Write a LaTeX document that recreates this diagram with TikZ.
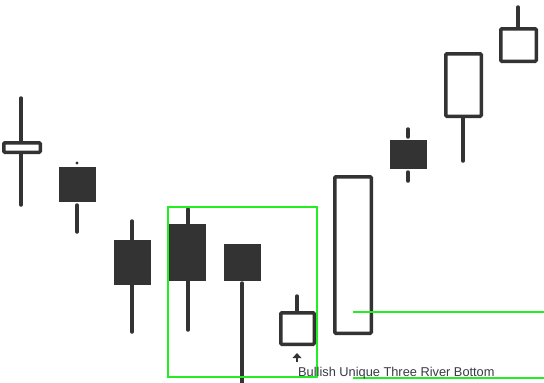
\documentclass[tikz,border=0pt]{standalone}
\usepackage{fontspec}
\setmainfont{Liberation Sans}
\definecolor{cdark}{HTML}{333333}
\definecolor{ctext}{HTML}{3A3A48}
\definecolor{cgreen}{HTML}{22EE22}
\begin{document}
\begin{tikzpicture}[x=1pt,y=-1pt,
  wick/.style={draw=cdark,line width=3.5pt,line cap=round},
  darkbody/.style={fill=cdark},
  hollowbody/.style={draw=cdark,fill=white,line width=3.5pt,rounded corners=1pt},
  marker/.style={draw=cgreen,line width=1.5pt}]
\useasboundingbox[fill=white] (0,0) rectangle (544,383);
% candle 1
\draw[wick] (21,98) -- (21,205);
\draw[hollowbody] (3.75,142.75) rectangle (40.25,152.25);
% candle 2
\fill[cdark] (77,163) circle (1.6);
\draw[wick] (77,205) -- (77,232);
\fill[darkbody] (59,167) rectangle (96,202);
% candle 3
\draw[wick] (132,221) -- (132,332);
\fill[darkbody] (114,240) rectangle (151,285);
% candle 4
\draw[wick] (188,209) -- (188,330);
\fill[darkbody] (169,224) rectangle (206,281);
% candle 5
\draw[wick] (242,283) -- (242,384);
\fill[darkbody] (224,244) rectangle (261,281);
% candle 6
\draw[wick] (297,296) -- (297,312);
\draw[hollowbody] (280.75,312.75) rectangle (314.25,344.25);
% arrow
\fill[cdark] (297,353) -- (301.5,358) -- (292.5,358) -- cycle;
\draw[cdark,line width=2pt] (297,357) -- (297,361.5);
% candle 7
\draw[hollowbody] (334.75,176.75) rectangle (371.25,333.25);
% candle 8
\draw[wick] (408,129) -- (408,137);
\draw[wick] (408,172) -- (408,181);
\fill[darkbody] (390,140) rectangle (427,169);
% candle 9
\draw[wick] (463,118) -- (463,161);
\draw[hollowbody] (445.75,53.75) rectangle (481.25,116.25);
% candle 10
\draw[wick] (518,7) -- (518,28);
\draw[hollowbody] (500.75,28.75) rectangle (536.25,61.25);
% pattern markers
\draw[marker] (168,207) rectangle (317,377);
\coordinate (l1a) at (353,312);
\coordinate (l1b) at (544,312);
\coordinate (l2a) at (353,378);
\coordinate (l2b) at (544,378);
\draw[marker] (l1a) -- (l1b);
\draw[marker] (l2a) -- (l2b);
\node[anchor=base west,inner sep=0pt,text=ctext,font=\fontsize{12.8}{13}\selectfont] (lbl) at (298,376) {Bullish Unique Three River Bottom};
\end{tikzpicture}
\end{document}
